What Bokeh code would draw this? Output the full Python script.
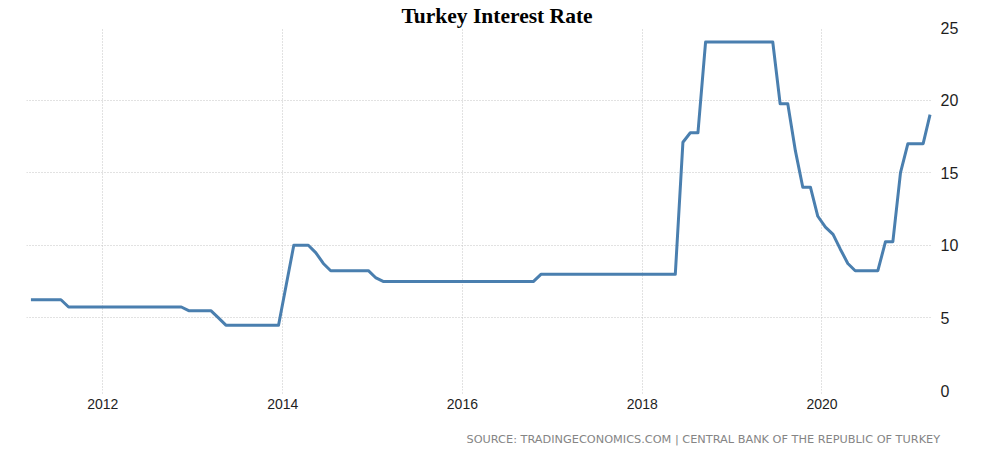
import pandas as pd
from bokeh.plotting import figure
from bokeh.models import Range1d, FixedTicker, DatetimeTickFormatter, Title
from bokeh.embed import file_html
from bokeh.resources import INLINE

# ---- data (monthly, Mar 2011 - Mar 2021) ----
first_month = "2011-03-15"
rates_2011 = [6.25, 6.25, 6.25, 6.25, 6.25, 5.75, 5.75, 5.75, 5.75, 5.75]           # Mar-Dec
rates_2012 = [5.75, 5.75, 5.75, 5.75, 5.75, 5.75, 5.75, 5.75, 5.75, 5.75, 5.75, 5.5]
rates_2013 = [5.5, 5.5, 5.5, 5.0, 4.5, 4.5, 4.5, 4.5, 4.5, 4.5, 4.5, 4.5]
rates_2014 = [7.25, 10.0, 10.0, 10.0, 9.5, 8.75, 8.25, 8.25, 8.25, 8.25, 8.25, 8.25]
rates_2015 = [7.75, 7.5, 7.5, 7.5, 7.5, 7.5, 7.5, 7.5, 7.5, 7.5, 7.5, 7.5]
rates_2016 = [7.5, 7.5, 7.5, 7.5, 7.5, 7.5, 7.5, 7.5, 7.5, 7.5, 8.0, 8.0]
rates_2017 = [8.0, 8.0, 8.0, 8.0, 8.0, 8.0, 8.0, 8.0, 8.0, 8.0, 8.0, 8.0]
rates_2018 = [8.0, 8.0, 8.0, 8.0, 8.0, 17.1, 17.75, 17.75, 24.0, 24.0, 24.0, 24.0]
rates_2019 = [24.0, 24.0, 24.0, 24.0, 24.0, 24.0, 19.75, 19.75, 16.5, 14.0, 14.0, 12.0]
rates_2020 = [11.25, 10.75, 9.75, 8.75, 8.25, 8.25, 8.25, 8.25, 10.25, 10.25, 15.0, 17.0]
rates_2021 = [17.0, 17.0, 19.0]                                                     # Jan-Mar

tick_years = ["2012", "2014", "2016", "2018", "2020"]
y_ticks = [0, 5, 10, 15, 20, 25]
title_text = "Turkey Interest Rate"
source_text = "SOURCE: TRADINGECONOMICS.COM | CENTRAL BANK OF THE REPUBLIC OF TURKEY"

rates = (rates_2011 + rates_2012 + rates_2013 + rates_2014 + rates_2015 + rates_2016
         + rates_2017 + rates_2018 + rates_2019 + rates_2020 + rates_2021)
dates = pd.date_range(first_month, periods=len(rates), freq=pd.DateOffset(months=1))

x_start = pd.Timestamp("2011-02-25")
x_end = pd.Timestamp("2021-03-25")

p = figure(width=1004, height=468, x_axis_type="datetime", y_axis_location="right",
           output_backend="svg", toolbar_location=None,
           x_range=Range1d(x_start, x_end), y_range=Range1d(0, 25),
           min_border_left=26, min_border_right=72, min_border_top=27, min_border_bottom=78)
p.outline_line_color = None
p.background_fill_color = "white"
p.border_fill_color = "white"

p.line(dates, rates, line_color="#4A7FAF", line_width=3, line_join="round")

# x axis
p.xaxis.ticker = FixedTicker(ticks=[pd.Timestamp(y + "-01-01").value // 10**6 for y in tick_years])
p.xaxis.formatter = DatetimeTickFormatter(years="%Y", months="%Y", days="%Y", hours="%Y",
                                          hourmin="%Y", minutes="%Y", minsec="%Y", seconds="%Y",
                                          milliseconds="%Y", microseconds="%Y")
p.xaxis.axis_line_color = None
p.xaxis.major_tick_in = 0
p.xaxis.major_tick_out = 3
p.xaxis.major_tick_line_color = "#cccccc"
p.xaxis.major_tick_line_dash = "1 2"
p.xaxis.minor_tick_line_color = None
p.xaxis.major_label_text_font = "Liberation Sans"
p.xaxis.major_label_text_font_size = "14px"
p.xaxis.major_label_text_color = "#1e1e1e"
p.xaxis.major_label_standoff = 5

# y axis (right)
p.yaxis.ticker = FixedTicker(ticks=y_ticks)
p.yaxis.axis_line_color = None
p.yaxis.major_tick_line_color = None
p.yaxis.minor_tick_line_color = None
p.yaxis.major_label_text_font = "Liberation Sans"
p.yaxis.major_label_text_font_size = "16px"
p.yaxis.major_label_text_color = "#1e1e1e"
p.yaxis.major_label_standoff = 2

# grids
for g in (p.xgrid, p.ygrid):
    g.grid_line_color = "#c4c4c4"
    g.grid_line_dash = "1 2"
    g.grid_line_width = 1

# title
p.title.text = title_text
p.title.text_font = "Liberation Serif"
p.title.text_font_style = "bold"
p.title.text_font_size = "21.5px"
p.title.text_color = "#000000"
p.title.align = "left"
p.title.offset = 375
p.title.standoff = 0

# source line
p.add_layout(Title(text=source_text, align="left", offset=440, text_font="DejaVu Sans",
                   text_font_style="normal", text_font_size="11.3px", text_color="#858585",
                   standoff=39), "below")

open("out.html", "w").write(file_html(p, INLINE))
